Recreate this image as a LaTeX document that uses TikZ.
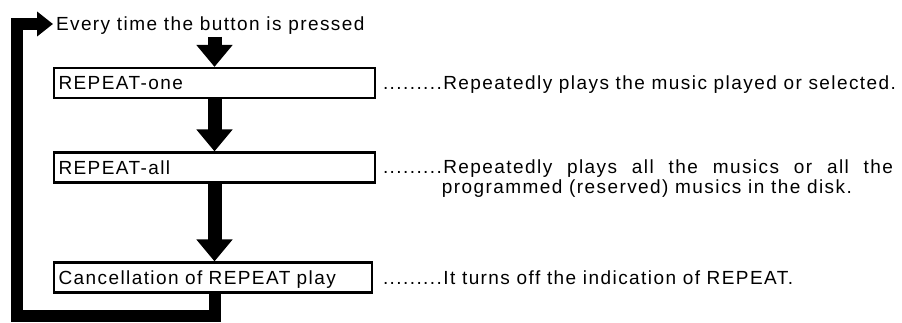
\documentclass[tikz,border=0pt]{standalone}
\usepackage{fontspec}
\setmainfont{Liberation Sans}[LetterSpace=7.5]
\usetikzlibrary{arrows.meta}
\begin{document}
\begin{tikzpicture}[x=1pt,y=1pt,
  txt/.style={font=\fontsize{19}{19}\selectfont, inner sep=0pt, outer sep=0pt, text height=13.6pt, text depth=0pt},
  modebox/.style={draw, line width=2.2pt, minimum height=30pt, text width=312pt, inner xsep=4.5pt, inner ysep=0pt, align=left,
    font=\fontsize{19}{19}\selectfont, text height=13.6pt, text depth=0pt},
  flow/.style={line width=14pt, -{Triangle[width=35pt,length=22pt]}},
  loopline/.style={line width=12pt, line join=miter, -{Triangle[width=24pt,length=16pt]}}
]
\useasboundingbox (0,0) rectangle (902,-323);
% title text
\node[txt, anchor=base west, inner xsep=3pt] (tx) at (53,-30.8) {Every time the button is pressed};
% mode boxes
\node[modebox] (b1) at (214.5,-83) {REPEAT-one};
\node[modebox] (b2) at (214.5,-167.5) {REPEAT-all};
\node[modebox, text width=309pt] (b3) at (213,-277.5) {Cancellation of REPEAT play};
% flow arrows
\coordinate (a0) at (214.5,-37);
\draw[flow] (a0) -- (b1.north);
\draw[flow] (b1.south) -- (b2.north);
\draw[flow] (b2.south) -- (b3.north -| b2.south);
% return loop
\coordinate (lc) at (17,-316);
\draw[loopline] (b3.south -| b2.south) |- (lc) |- (tx.west);
% descriptions
\node[txt, anchor=base west] (d1) at (383,-89.8) {.........Repeatedly plays the music played or selected.};
\node[txt, anchor=base west] (d2) at (383,-174) {\makebox[510pt][s]{.........Repeatedly plays all the musics or all the}};
\node[txt, anchor=base west] (d2b) at (383,-193.5) {\phantom{.........}programmed (reserved) musics in the disk.};
\node[txt, anchor=base west] (d3) at (383,-284.3) {.........It turns off the indication of REPEAT.};
\end{tikzpicture}
\end{document}
